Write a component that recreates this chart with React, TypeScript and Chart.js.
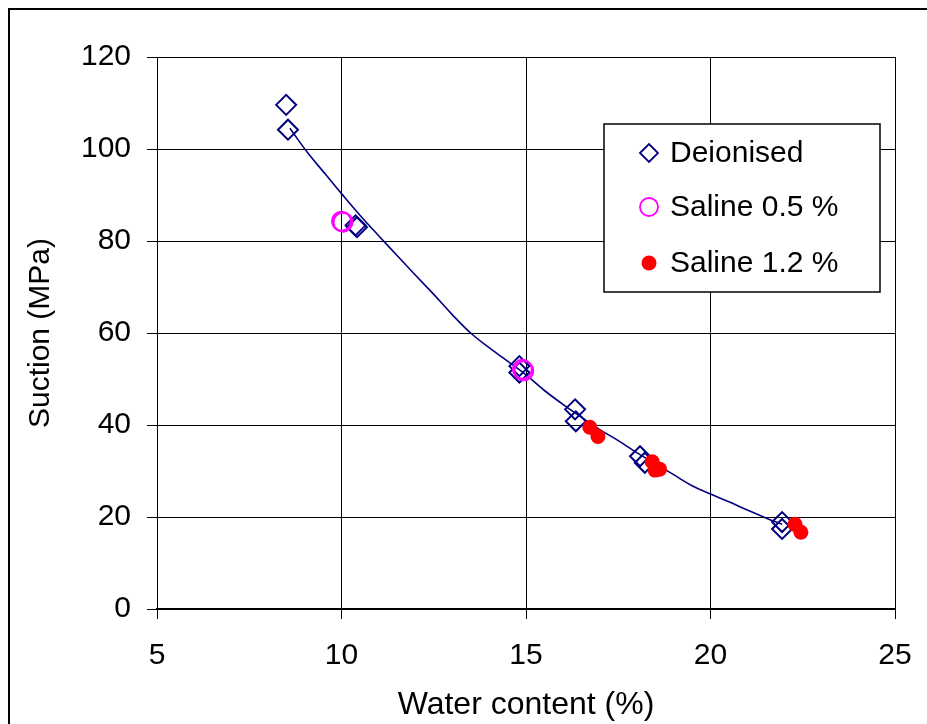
import React, { useEffect, useRef } from "react";
import { Chart, registerables } from "chart.js";

Chart.register(...registerables);

// Water content (%) vs suction (MPa) measurements
const deionisedX = [8.5, 8.55, 10.38, 10.42, 14.82, 14.82, 16.33, 16.35, 18.09, 18.22, 21.94, 21.94];
const deionisedY = [109.6, 104.2, 83.4, 83.0, 52.8, 51.4, 43.4, 40.8, 33.2, 31.8, 18.9, 17.4];

const saline05X = [10.0, 10.04, 14.9, 14.94];
const saline05Y = [84.3, 84.1, 52.1, 51.8];

const saline12X = [16.73, 16.95, 18.42, 18.5, 18.62, 22.29, 22.45];
const saline12Y = [39.5, 37.5, 32.0, 30.2, 30.4, 18.4, 16.7];

// Fitted trend through the data
const trendX = [8.6, 9.1, 9.6, 10.0, 10.5, 11.0, 11.5, 12.0, 12.5, 13.0, 13.5, 14.0, 14.5, 15.0, 15.5, 16.0, 16.5, 17.0, 17.5, 18.0, 18.5, 19.0, 19.5, 20.0, 20.5, 21.0, 21.5, 21.94];
const trendY = [104.5, 99.0, 94.2, 90.3, 85.6, 81.2, 76.9, 72.6, 68.4, 64.0, 60.0, 56.8, 53.9, 50.9, 47.5, 44.5, 41.7, 39.0, 36.6, 34.0, 31.6, 29.2, 26.8, 25.0, 23.3, 21.5, 19.8, 18.4];

const xTicks = [5, 10, 15, 20, 25];
const yTicks = [0, 20, 40, 60, 80, 100, 120];

const legendLabels = ["Deionised", "Saline 0.5 %", "Saline 1.2 %"];

const NAVY = "#000080";
const MAGENTA = "#FF00FF";
const RED = "#FF0000";
const FONT = "'Liberation Sans', Arial, sans-serif";

const toPoints = (xs: number[], ys: number[]) => xs.map((x, i) => ({ x, y: ys[i] }));

const framePlugin = {
  id: "outerFrame",
  beforeDraw(chart: any) {
    const { ctx } = chart;
    ctx.save();
    ctx.fillStyle = "#fff";
    ctx.fillRect(0, 0, chart.width, chart.height);
    ctx.strokeStyle = "#000";
    ctx.lineWidth = 2;
    ctx.strokeRect(9, 9, chart.width + 20, chart.height + 20);
    ctx.restore();
  },
};

const legendPlugin = {
  id: "boxLegend",
  afterDraw(chart: any) {
    const { ctx, chartArea } = chart;
    const left = chartArea.left + 447;
    const top = chartArea.top + 67;
    const w = 276;
    const h = 168;
    ctx.save();
    ctx.fillStyle = "#fff";
    ctx.fillRect(left, top, w, h);
    ctx.strokeStyle = "#000";
    ctx.lineWidth = 1.5;
    ctx.strokeRect(left, top, w, h);

    const mx = left + 45;
    const tx = left + 66;
    const rows = [top + 29, top + 83, top + 139];

    // diamond
    ctx.beginPath();
    const r = 9;
    ctx.moveTo(mx - r, rows[0]);
    ctx.lineTo(mx, rows[0] - r);
    ctx.lineTo(mx + r, rows[0]);
    ctx.lineTo(mx, rows[0] + r);
    ctx.closePath();
    ctx.strokeStyle = NAVY;
    ctx.lineWidth = 1.8;
    ctx.stroke();

    // open circle
    ctx.beginPath();
    ctx.arc(mx, rows[1], 9, 0, Math.PI * 2);
    ctx.strokeStyle = MAGENTA;
    ctx.lineWidth = 1.8;
    ctx.stroke();

    // filled circle
    ctx.beginPath();
    ctx.arc(mx, rows[2], 7.5, 0, Math.PI * 2);
    ctx.fillStyle = RED;
    ctx.fill();

    ctx.fillStyle = "#000";
    ctx.font = `30px ${FONT}`;
    ctx.textBaseline = "middle";
    ctx.textAlign = "left";
    legendLabels.forEach((label, i) => ctx.fillText(label, tx, rows[i] + 1));
    ctx.restore();
  },
};

export default function App() {
  const canvasRef = useRef<HTMLCanvasElement | null>(null);

  useEffect(() => {
    if (!canvasRef.current) return;
    const chart = new Chart(canvasRef.current, {
      type: "scatter",
      data: {
        datasets: [
          {
            label: "Trend",
            type: "line",
            data: toPoints(trendX, trendY),
            borderColor: NAVY,
            borderWidth: 1.6,
            pointRadius: 0,
            tension: 0.4,
            fill: false,
            order: 4,
          } as any,
          {
            label: legendLabels[0],
            data: toPoints(deionisedX, deionisedY),
            pointStyle: "rectRot",
            pointRadius: 10,
            pointBorderWidth: 2,
            borderColor: NAVY,
            backgroundColor: "rgba(0,0,0,0)",
            order: 3,
          },
          {
            label: legendLabels[1],
            data: toPoints(saline05X, saline05Y),
            pointStyle: "circle",
            pointRadius: 9.5,
            pointBorderWidth: 2,
            borderColor: MAGENTA,
            backgroundColor: "rgba(0,0,0,0)",
            order: 2,
          },
          {
            label: legendLabels[2],
            data: toPoints(saline12X, saline12Y),
            pointStyle: "circle",
            pointRadius: 7.5,
            pointBorderWidth: 0,
            borderColor: RED,
            backgroundColor: RED,
            order: 1,
          },
        ],
      },
      options: {
        animation: false,
        responsive: false,
        devicePixelRatio: 1,
        layout: { padding: { left: 0, right: 32, top: 57, bottom: 0 } },
        plugins: {
          legend: { display: false },
          tooltip: { enabled: false },
        },
        scales: {
          x: {
            type: "linear",
            min: 5,
            max: 25,
            afterBuildTicks: (scale: any) => {
              scale.ticks = xTicks.map((v) => ({ value: v }));
            },
            afterFit: (scale: any) => {
              scale.height = 115;
              scale.paddingLeft = 0;
              scale.paddingRight = 0;
            },
            ticks: {
              color: "#000",
              font: { family: FONT, size: 30 },
              padding: 19,
              maxRotation: 0,
            },
            grid: { color: "#000", lineWidth: 1, tickLength: 10, drawTicks: true },
            border: { color: "#000", width: 2 },
            title: {
              display: true,
              text: "Water content (%)",
              color: "#000",
              font: { family: FONT, size: 32 },
              padding: { top: 0, bottom: 0 },
            },
          },
          y: {
            type: "linear",
            min: 0,
            max: 120,
            afterBuildTicks: (scale: any) => {
              scale.ticks = yTicks.map((v) => ({ value: v }));
            },
            afterFit: (scale: any) => {
              scale.width = 157;
              scale.paddingTop = 0;
              scale.paddingBottom = 0;
            },
            ticks: {
              color: "#000",
              font: { family: FONT, size: 30 },
              padding: 16,
            },
            grid: { color: "#000", lineWidth: 1, tickLength: 10, drawTicks: true },
            border: { color: "#000", width: 1 },
            title: {
              display: true,
              text: "Suction (MPa)",
              color: "#000",
              font: { family: FONT, size: 30 },
              padding: { top: 23, bottom: 0 },
            },
          },
        },
      },
      plugins: [framePlugin, legendPlugin],
    });
    return () => chart.destroy();
  }, []);

  return (
    <div style={{ position: "absolute", left: 0, top: 0, width: 927, height: 724, overflow: "hidden" }}>
      <canvas ref={canvasRef} width={927} height={724} style={{ width: 927, height: 724, display: "block" }} />
    </div>
  );
}
